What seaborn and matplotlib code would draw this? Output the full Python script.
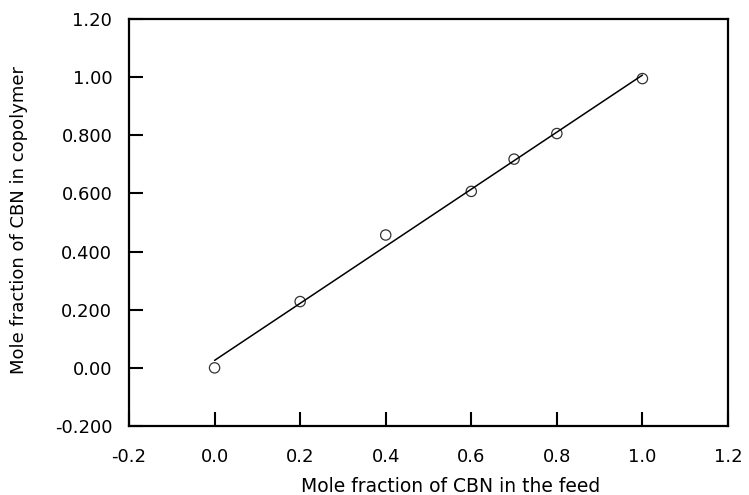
import numpy as np
import matplotlib
matplotlib.use("Agg")
import matplotlib.pyplot as plt
import seaborn as sns

# mole fraction of CBN: feed vs copolymer
feed = [0.0, 0.2, 0.4, 0.6, 0.7, 0.8, 1.0]
copolymer = [0.0, 0.228, 0.457, 0.607, 0.718, 0.806, 0.995]

x_ticks = [-0.2, 0.0, 0.2, 0.4, 0.6, 0.8, 1.0, 1.2]
x_tick_labels = ["-0.2", "0.0", "0.2", "0.4", "0.6", "0.8", "1.0", "1.2"]
y_ticks = [-0.2, 0.0, 0.2, 0.4, 0.6, 0.8, 1.0, 1.2]
y_tick_labels = ["-0.200", "0.00", "0.200", "0.400", "0.600", "0.800", "1.00", "1.20"]

sns.set_style("white", {"text.color": "black", "axes.labelcolor": "black",
                        "xtick.color": "black", "ytick.color": "black",
                        "axes.edgecolor": "black"})
plt.rcParams['font.family'] = ['DejaVu Sans']

fig = plt.figure(figsize=(7.49, 4.95), dpi=100)
ax = fig.add_axes([129 / 749, 1 - 426 / 495, 599 / 749, 407 / 495])

sns.regplot(x=feed, y=copolymer, ax=ax, ci=None, truncate=True,
            marker='o',
            scatter_kws=dict(s=55, facecolors='none', edgecolors='black', linewidths=0.9),
            line_kws=dict(color='black', linewidth=1.1))

ax.set_xlim(-0.2, 1.2)
ax.set_ylim(-0.2, 1.2)
ax.set_xticks(x_ticks)
ax.set_xticklabels(x_tick_labels)
ax.set_yticks(y_ticks)
ax.set_yticklabels(y_tick_labels)
ax.tick_params(direction='in', length=10, width=1.5, labelsize=13,
               colors='black', labelcolor='black',
               bottom=True, left=True, top=False, right=False)
ax.tick_params(axis='x', pad=16)
ax.tick_params(axis='y', pad=12)

for sp in ax.spines.values():
    sp.set_color('black')
    sp.set_linewidth(1.6)

ax.set_xlabel("Mole fraction of CBN in the feed", fontsize=13.5, color='black')
ax.xaxis.set_label_coords(0.5376, -0.125)
ax.set_ylabel("Mole fraction of CBN in copolymer", fontsize=13, color='black')
ax.yaxis.set_label_coords(-0.168, 0.505)

fig.savefig("out.png", dpi=100)
